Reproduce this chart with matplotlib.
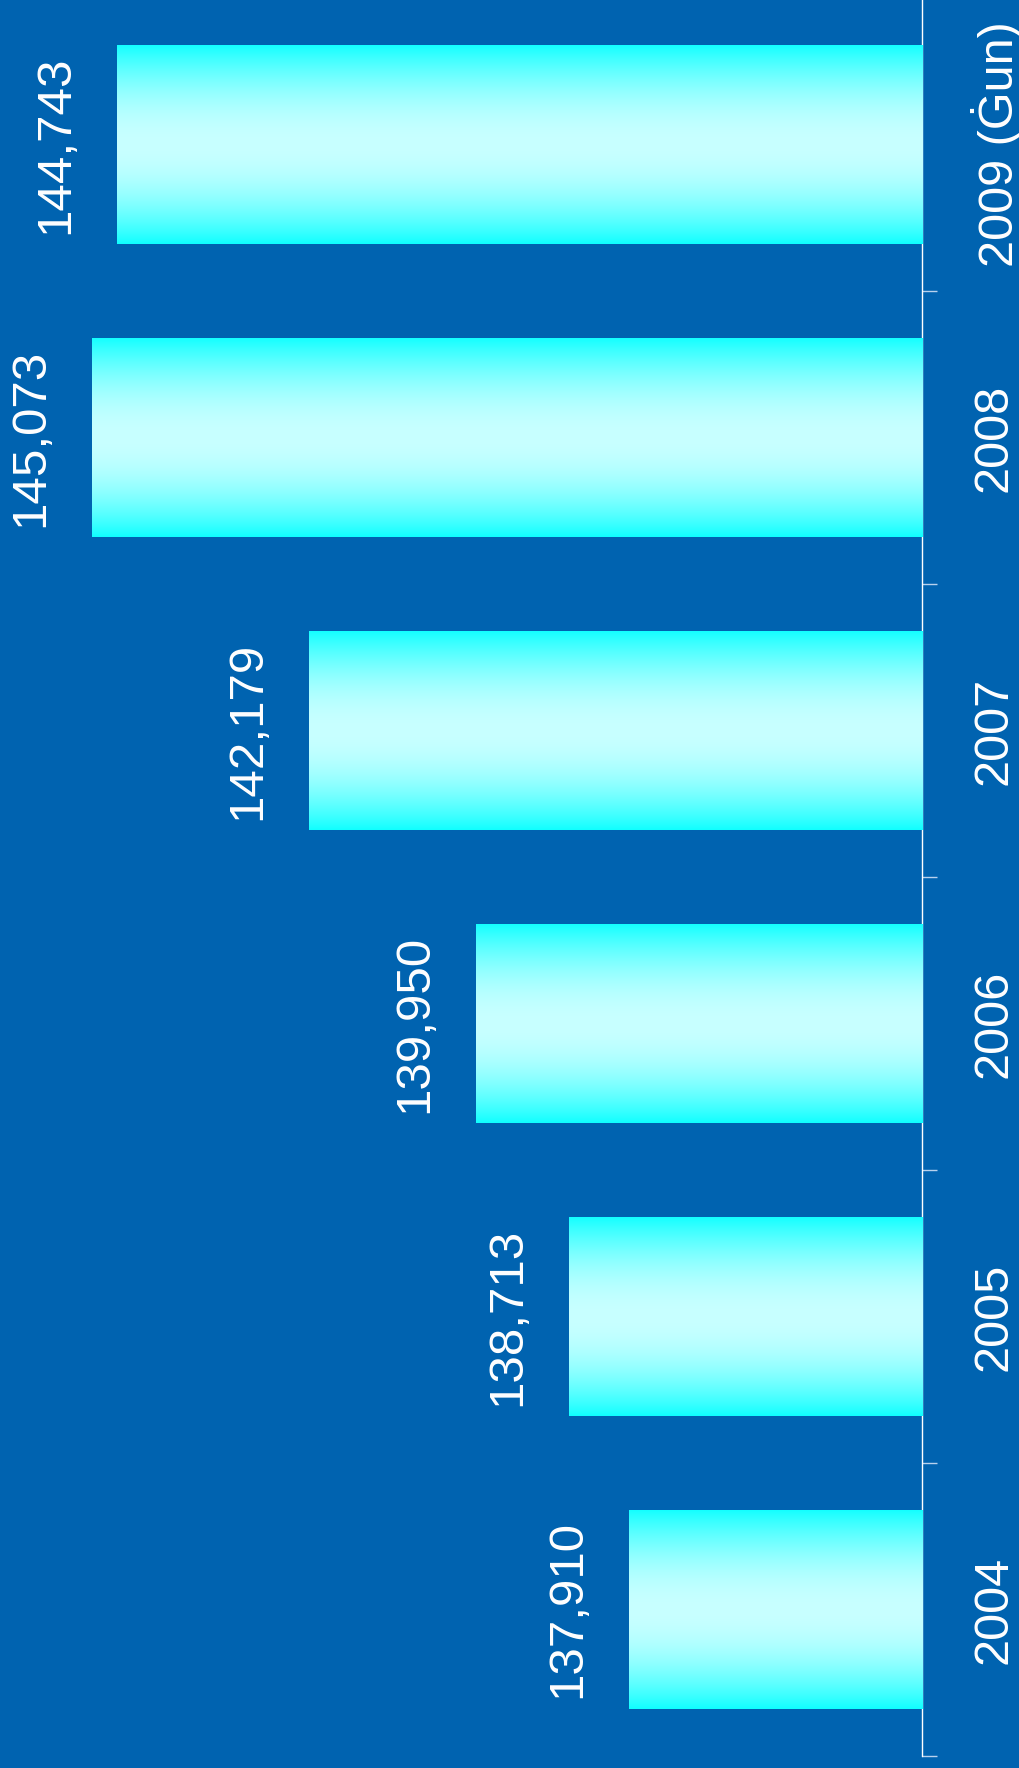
import numpy as np
import matplotlib
matplotlib.use("Agg")
import matplotlib.pyplot as plt

plt.rcParams['font.family'] = ['Liberation Sans', 'DejaVu Sans']

years = ["2004", "2005", "2006", "2007", "2008", "2009 (Ġun)"]
values = [137910, 138713, 139950, 142179, 145073, 144743]
labels = ["137,910", "138,713", "139,950", "142,179", "145,073", "144,743"]

bg = "#0063b0"
edge_col = np.array([16, 255, 255]) / 255
mid_col = np.array([200, 255, 255]) / 255

fig = plt.figure(figsize=(10.2, 17.68), dpi=100, facecolor=bg)
ax = fig.add_axes([0, 12 / 1768, 922 / 1020, 1758 / 1768])
ax.set_facecolor(bg)

base = 134000
pos = np.arange(len(years))
bars = ax.barh(pos, np.array(values) - base, left=base, height=0.68, color=edge_col, linewidth=0)

# gradient across the bar thickness, clipped to each bar
t = np.linspace(0, 1, 256)
f = np.sin(np.pi * t) ** 0.9
grad = edge_col[None, :] + (mid_col - edge_col)[None, :] * f[:, None]
grad = grad[:, None, :]
for b in bars:
    x0, y0, w, h = b.get_x(), b.get_y(), b.get_width(), b.get_height()
    im = ax.imshow(grad, extent=[x0, x0 + w, y0, y0 + h], aspect='auto', origin='lower', zorder=3)
    im.set_clip_path(b)

for i, (v, lab) in enumerate(zip(values, labels)):
    ax.annotate(lab, (v, i), xytext=(-28, 0), textcoords='offset points',
                rotation=90, ha='right', va='center', color='white', fontsize=35.5, zorder=4)

ax.set_xlim(146300, base)
ax.set_ylim(-0.5, len(years) - 0.5)
ax.set_xticks([])

ax.yaxis.tick_right()
ax.set_yticks(pos)
ax.set_yticklabels(years, rotation=90, va='center', ha='left', color='white', fontsize=35)
ax.set_yticks(np.arange(-0.5, len(years)), minor=True)
ax.tick_params(axis='y', which='major', length=0, pad=35.5)
ax.tick_params(axis='y', which='minor', length=11, width=1, color='#b8d2ee', right=True, left=False)

for s in ['top', 'bottom', 'left']:
    ax.spines[s].set_visible(False)
ax.spines['right'].set_color('white')
ax.spines['right'].set_linewidth(1)

fig.savefig("out.png", dpi=100, facecolor=bg)
